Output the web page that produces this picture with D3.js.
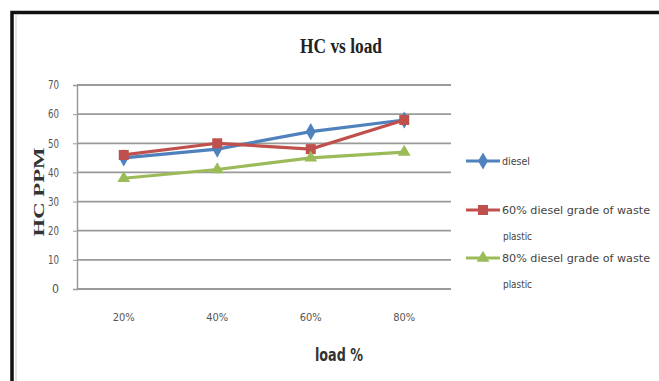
<!DOCTYPE html>
<html><head><meta charset="utf-8">
<script src="https://cdn.jsdelivr.net/npm/d3@7"></script>
<style>body{margin:0;background:#fff;}svg{display:block;}</style>
</head><body>
<script>
const categories = ["20%", "40%", "60%", "80%"];
const diesel = [45, 48, 54, 58];
const diesel60 = [46, 50, 48, 58];
const diesel80 = [38, 41, 45, 47];
const yTicks = [0, 10, 20, 30, 40, 50, 60, 70];
const seriesNames = ["diesel", "60%  diesel grade of waste|plastic", "80% diesel grade of waste|plastic"];

const W = 659, H = 381;
const FONT = "DejaVu Sans, sans-serif";
const svg = d3.select("body").append("svg").attr("width", W).attr("height", H);
svg.append("rect").attr("width", W).attr("height", H).attr("fill", "#fff");

// frame
svg.append("path").attr("d", `M12,${H} L12,12.5 L${W},12.5`).attr("fill", "none").attr("stroke", "#111").attr("stroke-width", 3.5);
svg.append("line").attr("x1", 16).attr("x2", 16).attr("y1", 15).attr("y2", H).attr("stroke", "#ccc").attr("stroke-width", 1);

const x = d3.scaleBand().domain(categories).range([77, 451]);
const y = d3.scaleLinear().domain([0, 70]).range([289, 85]);

// gridlines
svg.append("g").selectAll("line").data(yTicks).join("line")
  .attr("x1", 77).attr("x2", 451).attr("y1", d => y(d)).attr("y2", d => y(d))
  .attr("stroke", "#9a9a9a").attr("stroke-width", 1.8);

// y axis
const yAxis = svg.append("g").attr("transform", "translate(77,0)")
  .call(d3.axisLeft(y).tickValues(yTicks).tickSize(4).tickPadding(14));
yAxis.select(".domain").attr("stroke", "#9a9a9a").attr("stroke-width", 1.5);
yAxis.selectAll(".tick line").attr("stroke", "#9a9a9a");
yAxis.selectAll("text").attr("font-family", FONT).attr("font-size", 12).attr("fill", "#555")
  .attr("textLength", d => d === 0 ? 7 : 11).attr("lengthAdjust", "spacingAndGlyphs");

// x axis
const xAxis = svg.append("g").attr("transform", "translate(0,289)")
  .call(d3.axisBottom(x).tickSize(0).tickPadding(24));
xAxis.select(".domain").remove();
xAxis.selectAll("text").attr("font-family", FONT).attr("font-size", 11).attr("fill", "#555")
  .attr("textLength", 22).attr("lengthAdjust", "spacingAndGlyphs");

const series = [
  {name: seriesNames[0], values: diesel, color: "#4F81BD", sym: d3.symbolDiamond, size: 85},
  {name: seriesNames[1], values: diesel60, color: "#C0504D", sym: d3.symbolSquare, size: 100},
  {name: seriesNames[2], values: diesel80, color: "#9BBB59", sym: d3.symbolTriangle, size: 70}
];
const cx = d => x(d) + x.bandwidth() / 2;
const line = d3.line().x(d => cx(d.c)).y(d => y(d.v));
series.forEach(s => {
  const pts = categories.map((c, i) => ({c, v: s.values[i]}));
  svg.append("path").datum(pts).attr("d", line).attr("fill", "none").attr("stroke", s.color).attr("stroke-width", 3.2);
  svg.append("g").selectAll("path").data(pts).join("path")
    .attr("transform", d => `translate(${cx(d.c)},${y(d.v)})`)
    .attr("d", d3.symbol().type(s.sym).size(s.size)).attr("fill", s.color);
});

// title
svg.append("text").attr("x", 341).attr("y", 53).attr("text-anchor", "middle")
  .attr("font-family", "Liberation Serif, Times New Roman, serif").attr("font-weight", "bold").attr("font-size", 20)
  .attr("textLength", 82).attr("lengthAdjust", "spacingAndGlyphs")
  .attr("fill", "#222").text("HC vs load");
// axis titles
svg.append("text").attr("x", 339).attr("y", 361).attr("text-anchor", "middle")
  .attr("font-family", FONT).attr("font-weight", "bold").attr("font-size", 17)
  .attr("textLength", 48).attr("lengthAdjust", "spacingAndGlyphs")
  .attr("fill", "#333").text("load %");
svg.append("text").attr("transform", "translate(44,192) rotate(-90)").attr("text-anchor", "middle")
  .attr("font-family", "Liberation Serif, Times New Roman, serif").attr("font-weight", "bold").attr("font-size", 14)
  .attr("textLength", 89).attr("lengthAdjust", "spacingAndGlyphs")
  .attr("fill", "#333").text("HC  PPM");

// legend
const legY = [161, 210, 258];
const legLen = [[28], [148, 29], [148, 29]];
series.forEach((s, i) => {
  const g = svg.append("g").attr("transform", `translate(466,${legY[i]})`);
  g.append("line").attr("x1", 0).attr("x2", 34).attr("stroke", s.color).attr("stroke-width", 3);
  g.append("path").attr("transform", "translate(17,0)").attr("d", d3.symbol().type(s.sym).size(s.size)).attr("fill", s.color);
  const parts = s.name.split("|");
  parts.forEach((t, j) => {
    g.append("text").attr("x", j === 0 ? 36 : 37).attr("y", 4 + j * 26)
      .attr("font-family", FONT).attr("font-size", 10.5)
      .attr("textLength", legLen[i][j]).attr("lengthAdjust", "spacingAndGlyphs")
      .attr("fill", "#444").text(t);
  });
});
</script>
</body></html>
